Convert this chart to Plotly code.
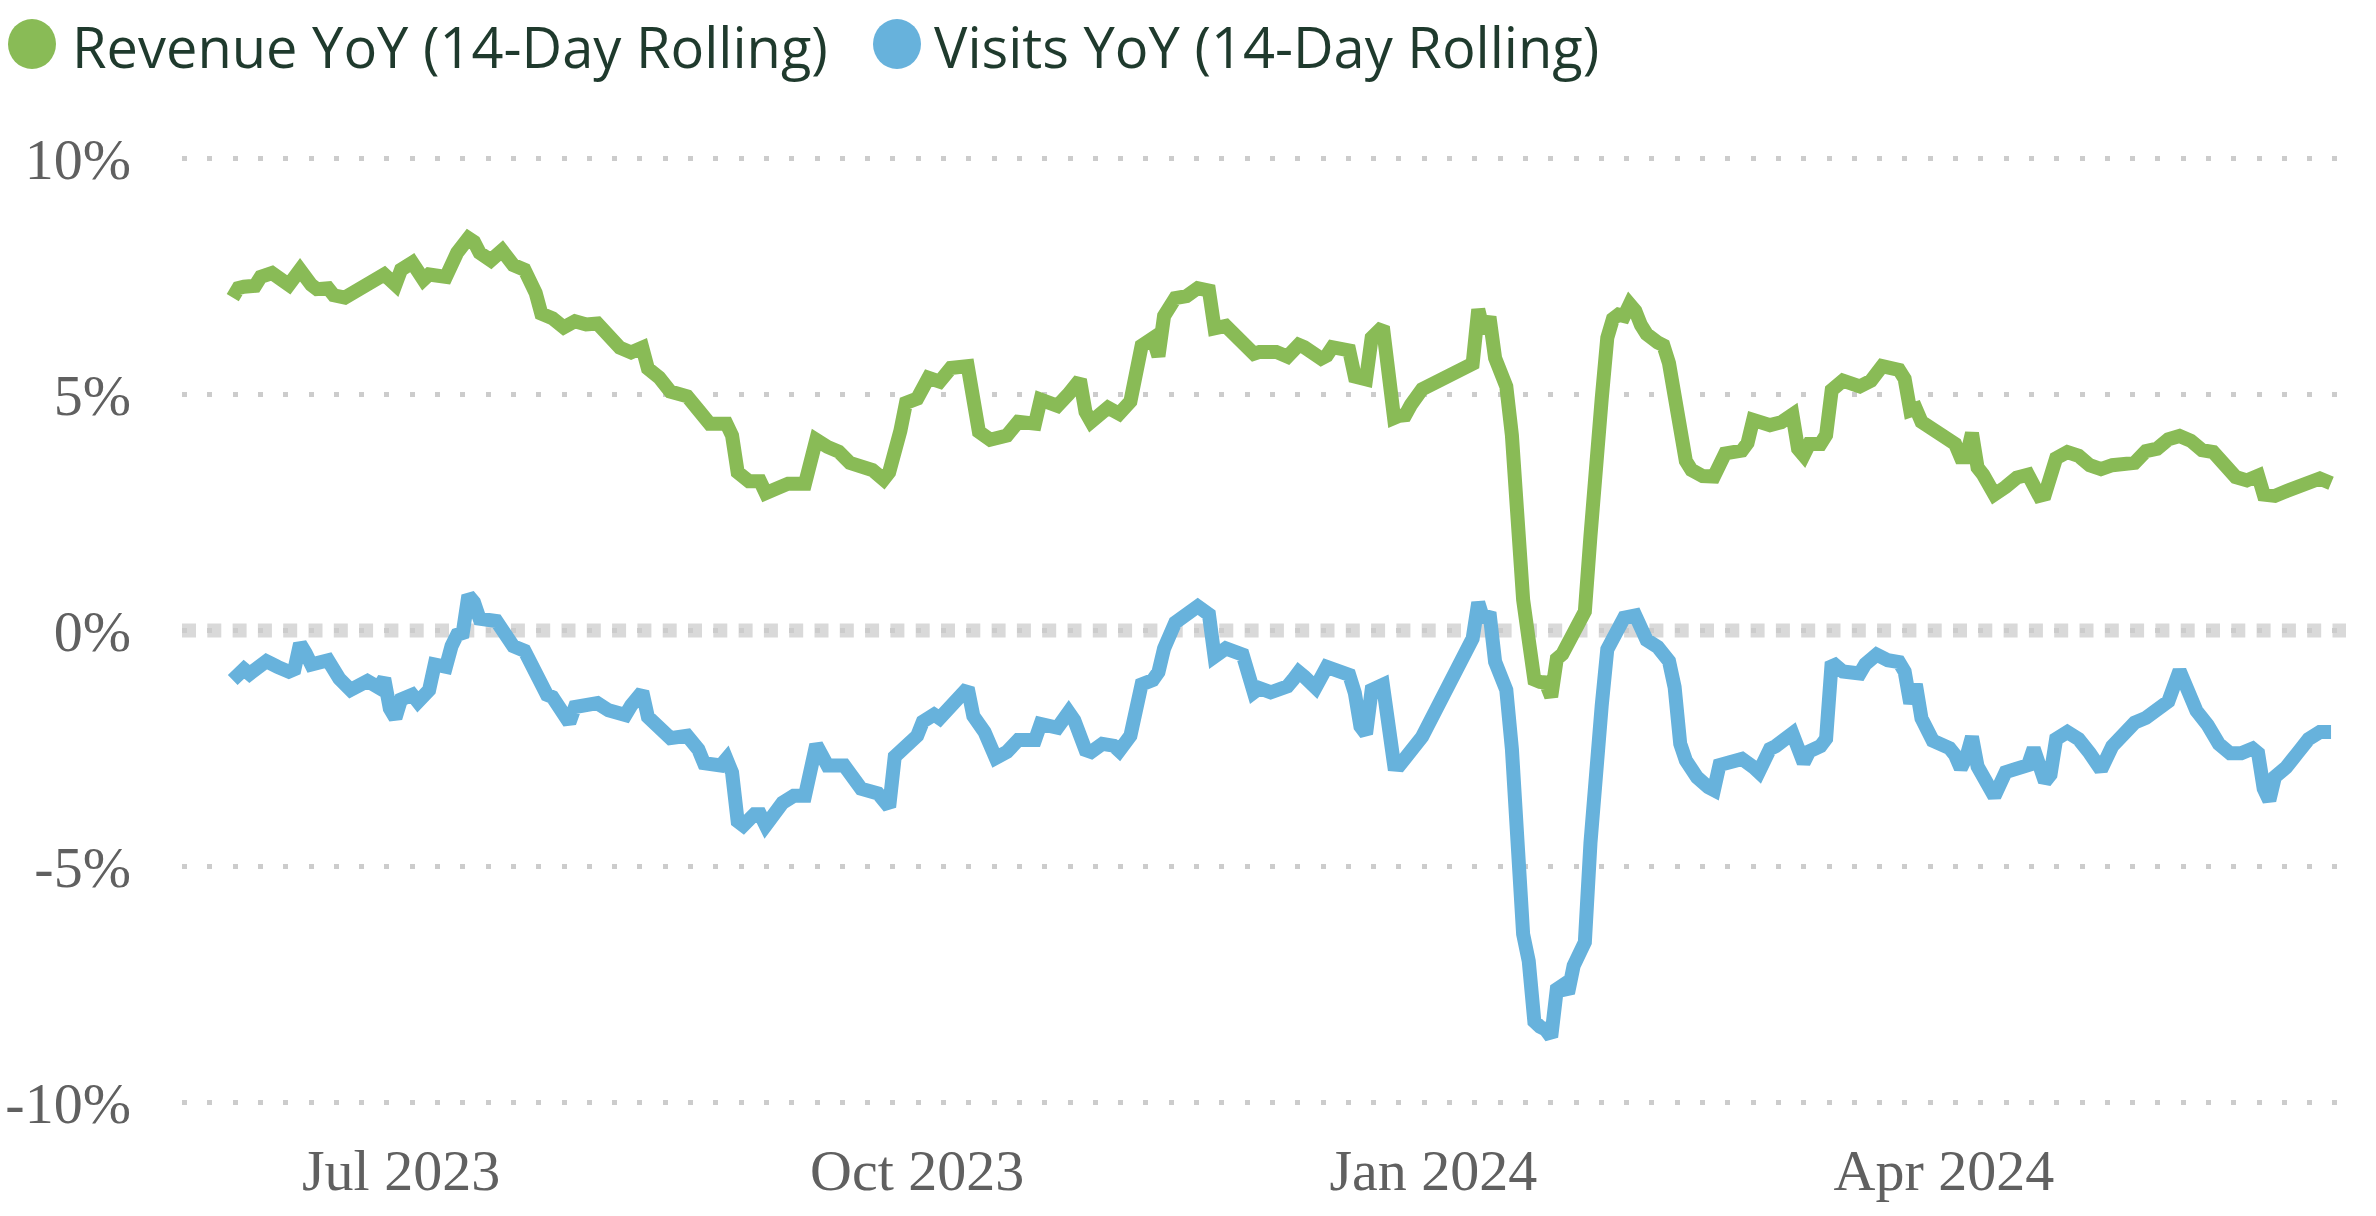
import pandas as pd
import plotly.graph_objects as go

# ---------------- data (day offsets from 2023-07-01, YoY %) ----------------
base_date = "2023-07-01"

rev_day = [-30, -29, -28, -26, -25, -23, -20, -18, -16, -15, -13, -12, -10, -8, -6, -3, -1, 0, 2, 4, 5, 7, 8,
           10, 12, 13, 14, 16, 18, 20, 22, 24, 25, 27, 29, 31, 33, 35, 38, 39, 41, 43, 44, 46, 48, 51, 53, 55,
           58, 59, 60, 62, 64, 65, 67, 69, 72, 74, 76, 78, 80, 82, 84, 86, 87, 89, 90, 92, 94, 96, 98, 101,
           103, 105, 108, 110, 113, 114, 117, 119, 121, 122, 123, 126, 128, 130, 132, 134, 135, 136, 138,
           140, 142, 144, 145, 147, 150, 152, 153, 156, 158, 160, 161, 164, 165, 166, 169, 170, 172, 173,
           175, 176, 177, 178, 179, 180, 181, 182,
           191, 192, 193, 194, 195, 196, 197, 198, 199, 200, 201, 202, 203, 204, 205, 206, 207, 208, 209,
           210, 211, 212, 213, 214, 215, 216, 217, 218, 219, 220, 221, 222, 224, 225, 226, 227, 228, 229,
           230, 232, 234, 235, 236, 239, 240, 241, 243, 244, 246, 248, 249, 250, 251, 253, 254, 255, 257,
           260, 262, 264, 267, 268, 269, 270, 271, 273, 274, 277, 278, 279, 280, 281, 282, 283, 284, 286,
           288, 290, 292, 293, 295, 297, 299, 301, 303, 305, 307, 309, 311, 313, 315, 317, 319, 321, 323,
           325, 327, 329, 331, 332, 334, 336, 338, 340, 342, 344]
rev_yoy = [7.05, 7.25, 7.28, 7.30, 7.49, 7.57, 7.32, 7.64, 7.32, 7.23, 7.25, 7.10, 7.05, 7.20, 7.32, 7.54,
           7.32, 7.64, 7.79, 7.43, 7.54, 7.47, 7.49,
           8.00, 8.31, 8.23, 8.00, 7.84, 8.05, 7.74, 7.64, 7.15, 6.71, 6.61, 6.42, 6.55, 6.48, 6.50, 6.19,
           5.99, 5.89, 5.99, 5.55, 5.36, 5.06, 4.96, 4.67, 4.38,
           4.38, 4.13, 3.35, 3.16, 3.16, 2.91, 3.01, 3.11, 3.11, 4.04, 3.89, 3.79, 3.55, 3.45, 3.40, 3.20,
           3.35, 4.23, 4.82, 4.91, 5.35, 5.27, 5.56, 5.60,
           4.21, 4.04, 4.13, 4.42, 4.38, 4.89, 4.76, 5.01, 5.31, 4.63, 4.42, 4.72, 4.59, 4.85, 6.03, 6.19,
           5.81, 6.66, 7.04,
           7.08, 7.25, 7.20, 6.40, 6.45, 6.15, 5.86, 5.90, 5.90, 5.80, 6.05, 6.00, 5.76, 5.82, 6.00, 5.93,
           5.38, 5.32, 6.20,
           6.43, 5.50, 4.50, 4.55, 4.56, 4.78, 5.00, 5.11,
           5.65, 6.80, 6.31, 6.64, 5.77, 5.33, 5.17, 4.13, 2.06, 0.65, -0.20, -1.04, -1.09, -1.10, -1.40,
           -0.60, -0.50, -0.30, -0.05,
           0.10, 0.40, 2.00, 3.90, 4.90, 6.20, 6.60, 6.69, 6.66, 6.91, 6.77, 6.47, 6.28, 6.10, 6.04, 5.66,
           4.90, 3.92, 3.59,
           3.40, 3.27, 3.26, 3.53, 3.75, 3.81, 3.97, 4.46, 4.41, 4.35, 4.41, 4.57, 3.85, 3.71, 3.95, 3.95,
           4.14, 5.09, 5.29,
           5.17, 5.29, 5.60, 5.52, 5.33, 4.66, 4.70, 4.42, 4.26, 4.14, 3.95, 3.67, 3.67, 4.18, 3.45, 3.30,
           3.12, 2.88, 3.04,
           3.24, 3.30, 2.85, 2.88, 3.65, 3.78, 3.70, 3.50, 3.42, 3.50, 3.50, 3.55, 3.80, 3.85, 4.05, 4.12,
           4.02, 3.82, 3.78,
           3.50, 3.25, 3.18, 3.28, 2.88, 2.85, 2.95, 3.05, 3.12, 3.22, 3.12]

vis_day = [-30, -28, -27, -26, -24, -22, -20, -19, -18, -17, -16, -13, -12, -11, -9, -6, -4, -3, -2, -1, 0,
           2, 3, 5, 6, 8, 9, 10, 11, 12, 13, 14, 17, 18, 20, 22, 24, 26, 27, 29, 30, 31, 32, 35, 37, 40, 41,
           43, 44, 46, 48, 51, 53, 54, 57, 58, 59, 60, 61, 63, 64, 65, 66, 68, 70, 72, 74, 76, 79, 81, 82,
           85, 87, 88, 90, 92, 93, 95, 96, 98, 99, 101, 102, 104, 106, 108, 110, 113, 114, 117, 119, 120,
           122, 123, 125, 127, 128, 130, 132, 134, 135, 136, 138, 140, 142, 144, 145, 147, 150, 152, 153,
           155, 157, 158, 159, 160, 161, 163, 165, 169, 170, 171, 172, 173, 175, 176, 177, 178, 179, 181, 182,
           191, 192, 193, 194, 195, 196, 197, 198, 199, 200, 201, 202, 203, 204, 205, 206, 207, 208, 209,
           210, 211, 212, 213, 214, 215, 216, 217, 218, 220, 221, 222, 224, 226, 227, 228, 229, 230, 231,
           233, 234, 235, 237, 239, 241, 242, 244, 245, 248, 249, 250, 251, 253, 254, 255, 257, 260, 261,
           263, 265, 267, 268, 269, 270, 271, 273, 274, 276, 277, 278, 279, 280, 281, 282, 284, 286, 288,
           290, 291, 292, 293, 294, 295, 297, 299, 301, 303, 305, 307, 309, 311, 313, 315, 317, 318, 320,
           322, 324, 326, 328, 330, 331, 332, 333, 334, 336, 338, 340, 342, 344]
vis_yoy = [-1.05, -0.82, -0.92, -0.82, -0.65, -0.77, -0.87, -0.82, -0.28, -0.48, -0.72, -0.63, -0.92, -1.02,
           -1.26, -1.07, -1.21, -1.02, -1.65, -1.85, -1.46,
           -1.36, -1.51, -1.26, -0.72, -0.77, -0.33, -0.09, -0.05, 0.74, 0.60, 0.25, 0.20, 0.01, -0.33, -0.43,
           -0.97, -1.36, -1.41, -1.85, -1.95, -1.62, -1.59, -1.54, -1.69, -1.79, -1.59,
           -1.30, -1.83, -2.03, -2.28, -2.23, -2.52, -2.81, -2.86, -2.72, -3.01, -4.04, -4.13, -3.89, -3.89,
           -4.13, -3.99, -3.65, -3.50, -3.50, -2.42, -2.86, -2.86, -3.16, -3.35,
           -3.45, -3.74, -2.67, -2.47, -2.23, -1.93, -1.78, -1.86, -1.56, -1.52, -1.22, -1.81, -2.15, -2.70,
           -2.57, -2.32, -2.32, -1.98, -2.06, -1.73, -1.90,
           -2.53, -2.57, -2.40, -2.44, -2.55, -2.23, -1.14, -1.05, -0.88, -0.38, 0.17, 0.34, 0.51, 0.34,
           -0.55, -0.38, -0.51, -1.31, -1.22,
           -1.31, -1.22, -1.18, -1.04, -0.88, -0.98, -1.21, -0.77, -0.94, -1.32, -2.03, -2.19, -1.26, -1.15,
           -2.00, -2.84, -2.85, -2.67, -2.35, -2.25,
           -0.17, 0.59, 0.21, 0.38, -0.66, -1.09, -1.26, -2.51, -5.01, -6.43, -7.00, -8.28, -8.39, -8.45,
           -8.61, -7.60, -7.52, -7.68, -7.10,
           -6.85, -6.60, -4.50, -2.40, -1.60, -0.40, -0.15, 0.05, 0.27, 0.32, 0.00, -0.20, -0.35, -0.65,
           -1.20, -2.40, -2.75, -2.95, -3.11,
           -3.32, -3.38, -2.85, -2.78, -2.72, -2.89, -3.00, -2.51, -2.45, -2.18, -2.62, -2.80, -2.56, -2.45,
           -2.29, -0.67, -0.87, -0.91, -0.71,
           -0.51, -0.63, -0.67, -0.87, -1.54, -1.14, -1.86, -2.33, -2.37, -2.49, -2.64, -2.92, -2.68, -2.25,
           -2.88, -3.12, -3.51, -3.00, -2.92,
           -2.85, -2.50, -3.00, -3.20, -3.05, -2.30, -2.15, -2.30, -2.60, -2.95, -2.45, -2.20, -1.95, -1.85,
           -1.65, -1.50, -0.85, -1.20, -1.70,
           -2.00, -2.40, -2.60, -2.60, -2.50, -2.60, -3.35, -3.60, -3.10, -2.90, -2.60, -2.30, -2.15, -2.15]

series_names = ["Revenue YoY (14-Day Rolling)", "Visits YoY (14-Day Rolling)"]
series_colors = ["#89bb56", "#67b2dc"]

x_tick_vals = ["2023-07-01", "2023-10-01", "2024-01-01", "2024-04-01"]
x_tick_text = ["Jul 2023", "Oct 2023", "Jan 2024", "Apr 2024"]
y_tick_vals = [-10, -5, 0, 5, 10]
y_tick_text = ["-10%", "-5%", "0%", "5%", "10%"]

# ---------------- figure ----------------
base = pd.Timestamp(base_date)
rev_dates = base + pd.to_timedelta(rev_day, unit="D")
vis_dates = base + pd.to_timedelta(vis_day, unit="D")

fig = go.Figure()
fig.add_trace(go.Scatter(x=rev_dates, y=rev_yoy, mode="lines", name=series_names[0],
                         line=dict(color=series_colors[0], width=14), showlegend=False))
fig.add_trace(go.Scatter(x=vis_dates, y=vis_yoy, mode="lines", name=series_names[1],
                         line=dict(color=series_colors[1], width=14), showlegend=False))

W, H = 2376, 1216
ML, MR, MT, MB = 182, 30, 130, 85
PW, PH = W - ML - MR, H - MT - MB


def px_to_paper_x(px):
    return (px - ML) / PW


def px_to_paper_y(py):
    return (H - MB - py) / PH


# zero line (thick dotted) beneath the grid
fig.add_shape(type="line", xref="paper", yref="y", x0=0, x1=1, y0=0, y1=0,
              line=dict(color="#d9d9d9", width=14, dash="14px,11.3px"), layer="below")

# manual legend: circles + text
legend_items = [(32, 70), (897, 932)]
for (cx, tx), name, color in zip(legend_items, series_names, series_colors):
    fig.add_shape(type="circle", xref="paper", yref="paper",
                  xsizemode="pixel", ysizemode="pixel",
                  xanchor=px_to_paper_x(cx), yanchor=px_to_paper_y(44),
                  x0=-24, x1=24, y0=-25, y1=25,
                  fillcolor=color, line=dict(width=0))
    fig.add_annotation(x=px_to_paper_x(tx), y=px_to_paper_y(46), xref="paper", yref="paper",
                       xanchor="left", yanchor="middle", showarrow=False, text=name,
                       font=dict(family="Open Sans", size=56, color="#1f3a2d"))

fig.update_layout(
    width=W, height=H,
    margin=dict(l=ML, r=MR, t=MT, b=MB, pad=0, autoexpand=False),
    paper_bgcolor="white", plot_bgcolor="white",
    showlegend=False,
    xaxis=dict(
        range=["2023-05-22 23:00", "2024-06-11 16:00"],
        tickvals=x_tick_vals, ticktext=x_tick_text,
        showgrid=False, zeroline=False, showline=False, ticks="",
        automargin=False,
        tickfont=dict(family="Liberation Serif", size=58, color="#606060"),
    ),
    yaxis=dict(
        range=[-10.6, 10.6],
        tickvals=y_tick_vals, ticktext=y_tick_text,
        showgrid=True, gridcolor="#cccccc", gridwidth=5, griddash="5px,20.3px",
        zeroline=False, showline=False, ticks="",
        automargin=False,
        ticklabelstandoff=50,
        tickfont=dict(family="Liberation Serif", size=58, color="#606060"),
    ),
)

fig.write_html("out.html")
